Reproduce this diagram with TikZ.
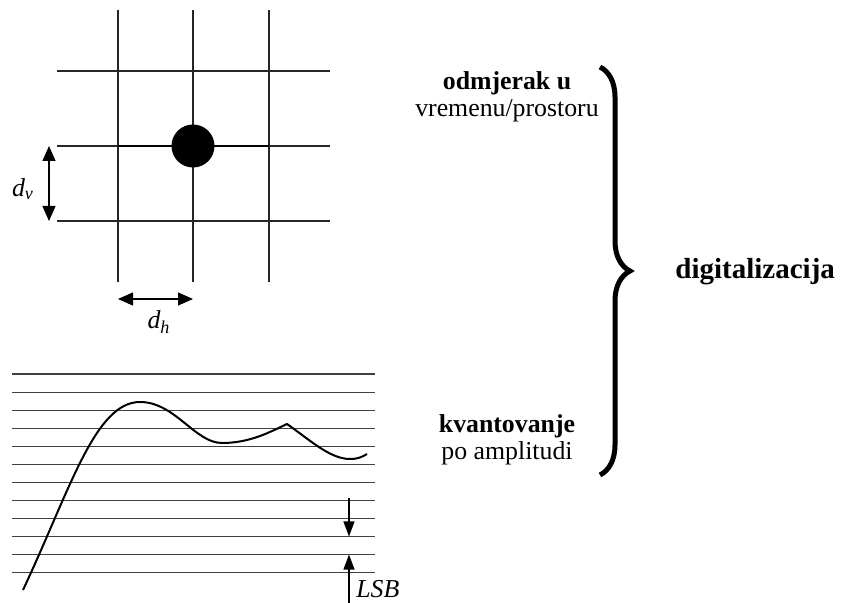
\documentclass[tikz,border=0pt]{standalone}
\usepackage{fontspec}
\setmainfont{Liberation Serif}
\usepackage{tikz}
\usetikzlibrary{arrows.meta,decorations.pathreplacing}
\tikzset{
  gridline/.style={line width=0.55pt, color=black!85},
  levelline/.style={line width=0.55pt, color=black!75},
  dimarrow/.style={{Triangle[length=7.5pt,width=6.5pt]}-{Triangle[length=7.5pt,width=6.5pt]}, line width=0.6pt},
  lsbarrow/.style={-{Triangle[length=7.5pt,width=5.5pt]}, line width=0.6pt},
  labeltext/.style={align=center, inner sep=0pt, font=\fontsize{12.9}{13.5}\selectfont},
  signal/.style={line width=1pt, line join=round},
}

\begin{document}
\begin{tikzpicture}[x=0.5pt, y=-0.5pt]
  \useasboundingbox (0,0) rectangle (841,603);

  % sampling grid
  \foreach \x in {118,193,269}
    \draw[gridline] (\x,10) -- (\x,282);
  \foreach \y in {71,146,221}
    \draw[gridline] (57,\y) -- (330,\y);
  \draw[line width=1pt] (118,146) -- (269,146);
  \node[circle, fill=black, inner sep=0pt, minimum size=21.5pt] (dot) at (193,146) {};

  % spacing marks
  \coordinate (dvtop) at (49,146);
  \coordinate (dvbot) at (49,221);
  \coordinate (dhleft) at (118,299);
  \coordinate (dhright) at (193,299);
  \draw[dimarrow] (dvtop) -- (dvbot);
  \draw[dimarrow] (dhleft) -- (dhright);
  \node[labeltext] (dv) at (23,189) {\textit{d}\textsubscript{\textit{v}}};
  \node[labeltext] (dh) at (159,322) {\textit{d}\textsubscript{\textit{h}}};

  % quantisation levels
  \foreach \i in {0,...,11}
    \draw[levelline] (12,{374+18.06*\i}) -- (375,{374+18.06*\i});
  \draw[signal] (23,590) .. controls (70,490) and (95,402) .. (140,402)
    .. controls (175,402) and (195,443) .. (222,443)
    .. controls (250,443) and (270,432) .. (287,424)
    .. controls (310,440) and (330,459) .. (350,459)
    .. controls (358,459) and (362,457) .. (367,454);

  \coordinate (lsbtop) at (349,498);
  \coordinate (lsbmid) at (349,536.5);
  \coordinate (lsblow) at (349,554.6);
  \coordinate (lsbbot) at (349,603);
  \draw[lsbarrow] (lsbtop) -- (lsbmid);
  \draw[lsbarrow] (lsbbot) -- (lsblow);
  \node[labeltext, anchor=west] (lsb) at (356,589) {\itshape LSB};

  % labels on the right
  \node[labeltext] (odm) at (507,97) {\textbf{odmjerak u}\\vremenu/prostoru};
  \node[labeltext] (kvant) at (507,440) {\textbf{kvantovanje}\\po amplitudi};
  \draw[line width=2.5pt, decorate, decoration={brace, amplitude=15pt}]
    (600,67) -- (600,475);
  \node[inner sep=0pt, font=\fontsize{14.5}{16}\selectfont\bfseries, anchor=west] (digit) at (675,272) {digitalizacija};
\end{tikzpicture}
\end{document}
